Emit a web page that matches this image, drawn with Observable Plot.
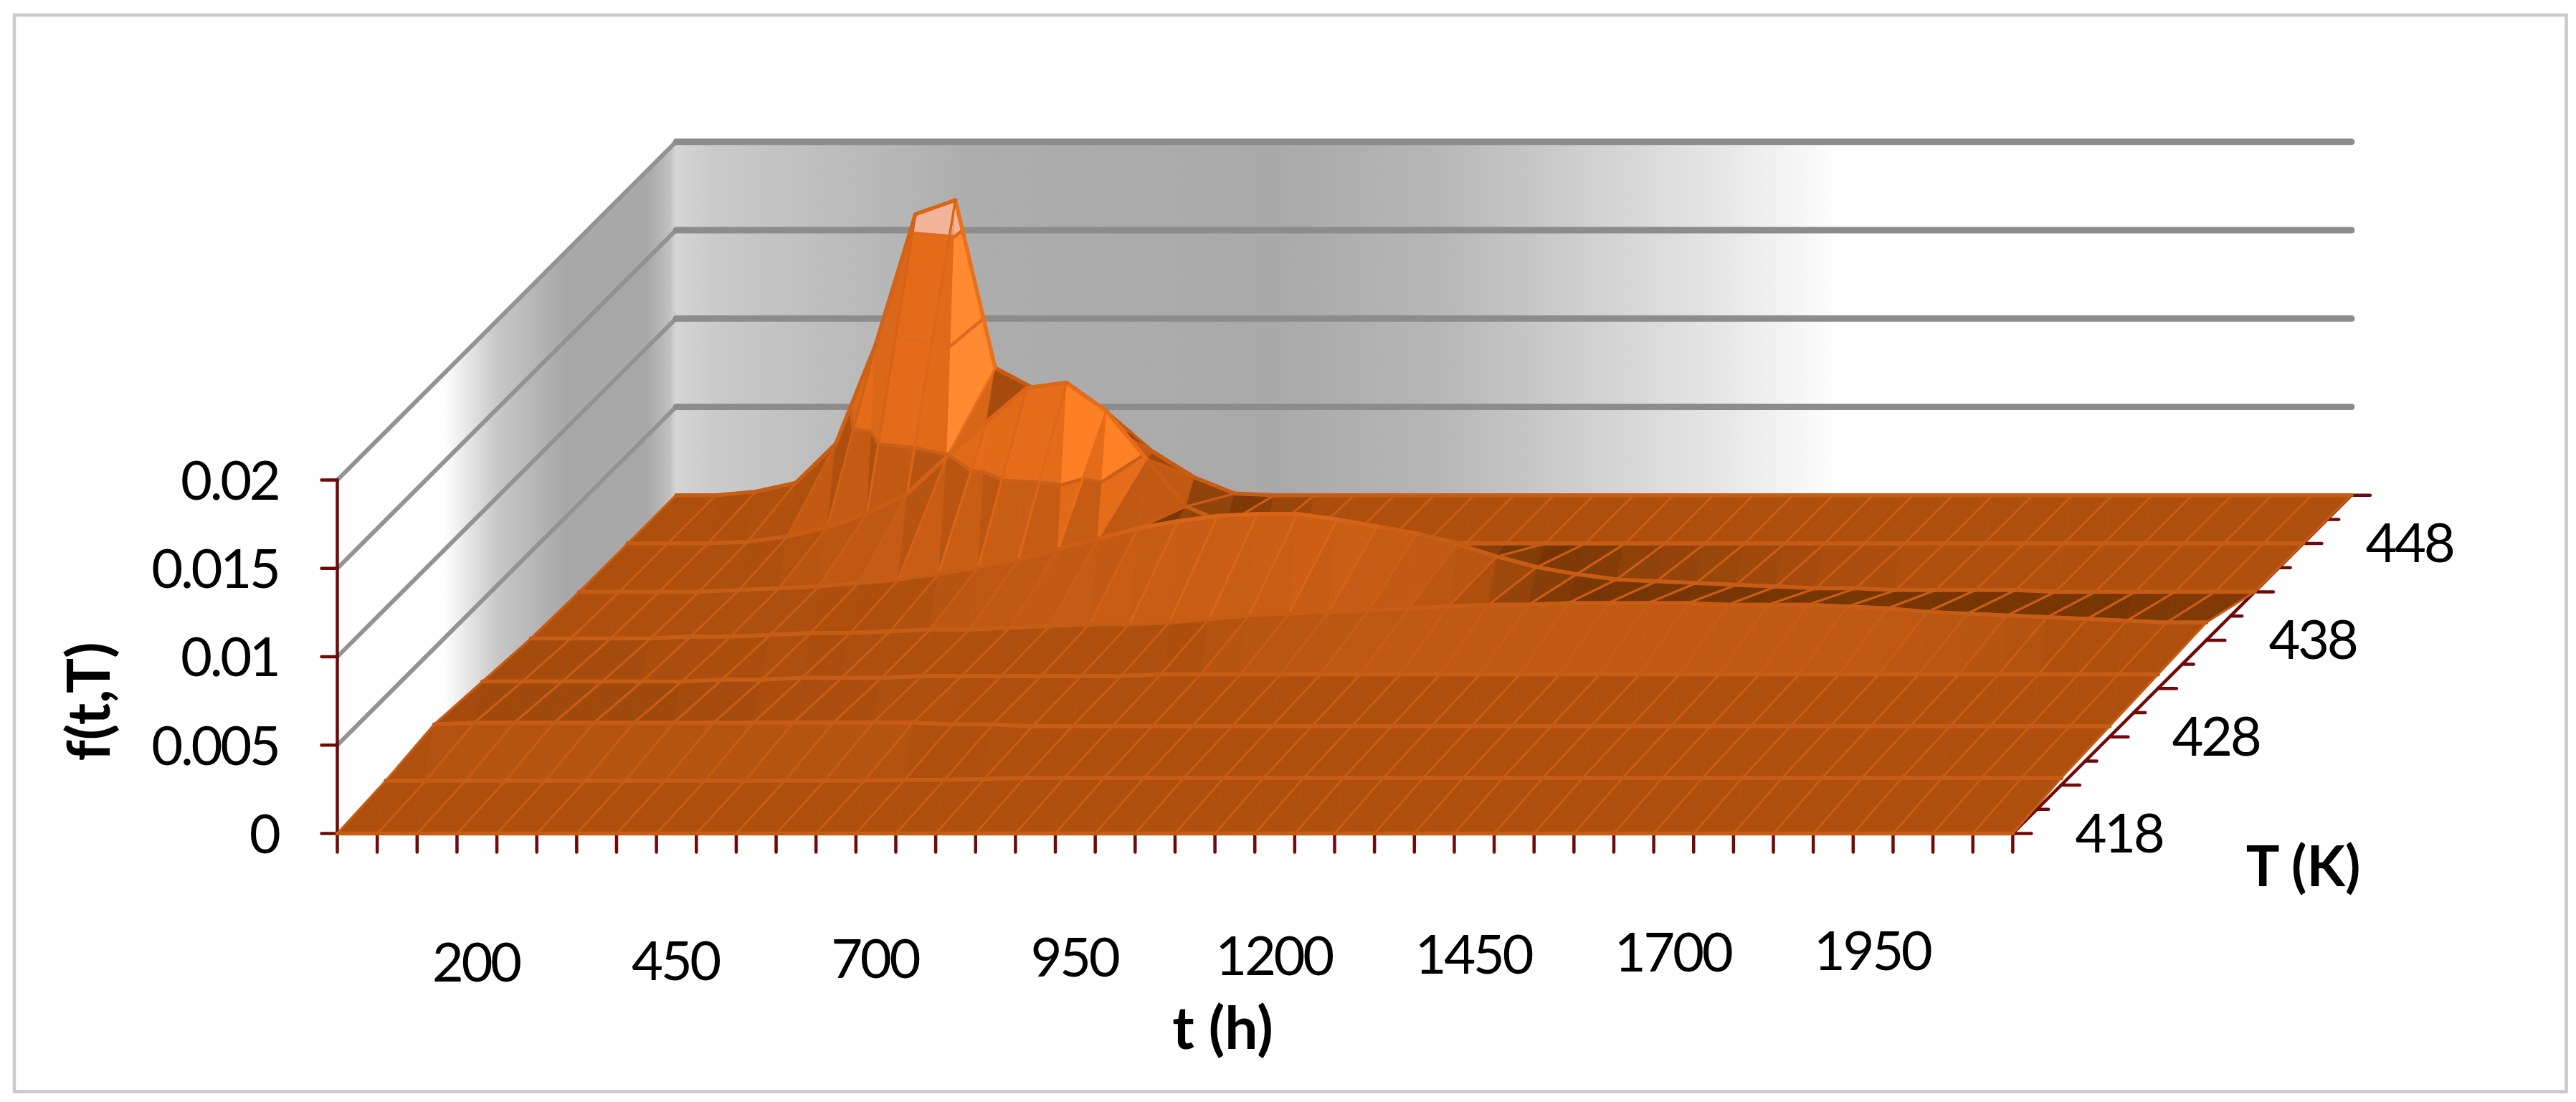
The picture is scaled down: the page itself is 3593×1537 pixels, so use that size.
<!doctype html>
<html><head><meta charset="utf-8">
<script src="https://cdn.jsdelivr.net/npm/d3@7"></script>
<script src="https://cdn.jsdelivr.net/npm/@observablehq/plot@0.6"></script>
<style>html,body{margin:0;padding:0;background:#fff;overflow:hidden}svg{display:block}g[font-size="76"]{letter-spacing:-.045em}</style>
</head><body><div id="chart"></div>
<script>
// ---- values ----
const tHours = [100,150,200,250,300,350,400,450,500,550,600,650,700,750,800,850,900,950,1000,1050,1100,1150,1200,1250,1300,1350,1400,1450,1500,1550,1600,1650,1700,1750,1800,1850,1900,1950,2000,2050,2100,2150,2200];
const tempK = [418,423,428,433,438,443,448,453];
const f418 = [0,0,0,0,0,0,0,0,0,0, 0,0,0,0,0,0,0,0,0,0, 0,0,0,0,0,0,0,0,0,0, 0,0,0,0,0,0,0,0,0,0, 0,0,0];
const f423 = [.00025,.00025,.00025,.00025,.00025,.00025,.00025,.00025,.00025,.00025, .00025,.00025,.00025,.0003,.0003,.00035,.0004,.0004,.0004,.0004, .0004,.0004,.0004,.0004,.0004,.0004,.0004,.0004,.0004,.0004, .0004,.0004,.0004,.0004,.0004,.0004,.0004,.0004,.0004,.0004, .0004,.0004,.0004];
const f428 = [.0007,.0008,.0008,.0008,.0008,.0008,.0008,.0008,.0008,.0008, .0008,.0008,.0008,.0007,.0007,.0006,.0006,.0006,.0006,.0006, .0006,.0006,.0006,.0006,.0006,.0006,.0006,.0006,.0006,.0006, .0006,.0006,.0006,.0006,.0006,.0006,.0006,.0006,.0006,.0006, .0006,.0006,.0006];
const f433 = [.0004,.0004,.0004,.0004,.0004,.0004,.0005,.0005,.0006,.0006, .0006,.0007,.0007,.0007,.0007,.0007,.0007,.0008,.0008,.0008, .0008,.0008,.0008,.0008,.0008,.0008,.0008,.0008,.0008,.0008, .0008,.0008,.0008,.0008,.0008,.0008,.0008,.0008,.0008,.0008, .0008,.0008,.0008];
const f438 = [.0001,.0001,.0001,.0001,.0002,.0002,.0003,.0004,.0004,.0005, .0006,.0006,.0007,.0008,.0009,.0009,.001,.0012,.0014,.0015, .0016,.0017,.0018,.0019,.002,.002,.0021,.0021,.0021,.0021, .002,.002,.002,.0019,.0018,.0016,.0015,.0014,.0013,.0012, .0011,.001,.001];
const f443 = [0,0,0,0,.0001,.0002,.0003,.0005,.0007,.001, .0014,.0018,.0024,.003,.0036,.004,.0043,.0044,.0044,.0041, .0037,.0033,.0027,.002,.0014,.001,.0007,.0006,.0005,.0004, .0003,.0002,.0002,.0001,.0001,.0001,.0001,0,0,0, 0,0,0];
const f448 = [0,0,0,.0001,.0004,.0009,.0017,.0028,.0049,.0069, .0088,.0091,.0075,.0048,.0021,.0011,.0005,.0002,0,0, 0,0,0,0,0,0,0,0,0,0, 0,0,0,0,0,0,0,0,0,0, 0,0,0];
const f453 = [0,0,.0002,.0007,.0029,.0085,.0159,.0167,.0072,.006, .0046,.0036,.0024,.001,.0001,0,0,0,0,0, 0,0,0,0,0,0,0,0,0,0, 0,0,0,0,0,0,0,0,0,0, 0,0,0];
const fTicks = [0,0.005,0.01,0.015,0.02];
const tLabels = [200,450,700,950,1200,1450,1700,1950];
const TLabels = [418,428,438,448];
const bandLevels = [0.005,0.01,0.015];

const surface = [f418,f423,f428,f433,f438,f443,f448,f453];

// ---- oblique projection of (t index, T index, f) ----
const W = 3593, H = 1537;
const fontFamily = "Lato, 'Open Sans', sans-serif";
const cols = tHours.length - 1, rows = tempK.length - 1;
const originX = 470, originY = 1162, stepT = 55.64, depthX = 67.5, depthY = 67.4, fPx = 24650;
const px = (i, j) => originX + stepT * i + depthX * j;
const py = (j, f) => originY - depthY * j - fPx * f;

// ---- shading of a facet ----
const ramp = d3.scaleLinear()
  .domain([-1,-.5,0,.1,.25,.4,.55,.8,1.1])
  .range(["#773503","#8f420a","#ae4f0e","#bb5612","#c75c14","#d96618","#e56c1a","#ff7f24","#ff9540"])
  .clamp(true);
function shade(dzdx, dzdy, band) {
  const rise = Math.max(0, dzdy - 0.15);
  let v1 = dzdy >= 0 ? Math.min(0.55, 0.2 * Math.log(1 + 12 * rise)) : Math.max(-1, Math.min(0, (dzdy + 0.05) * 2.5));
  let v2 = dzdx < 0 ? Math.min(0.5, -dzdx * 0.35) : -Math.min(0.12, dzdx * 0.06);
  if (v1 < 0) v1 /= 1 + (2 * dzdx) ** 2;
  if (band === 0) {
    if (v1 > 0) v1 *= 0.55;
    v2 = dzdx < 0 ? v2 * 0.8 : -Math.min(0.3, dzdx * 0.25);
  }
  return v1 + v2;
}
function clipBand(poly, lo, hi) {
  const cut = (p, keep, lvl) => {
    const out = [];
    p.forEach((a, k) => {
      const b = p[(k + 1) % p.length];
      const ka = keep(a[2]), kb = keep(b[2]);
      if (ka) out.push(a);
      if (ka !== kb) {
        const s = (lvl - a[2]) / (b[2] - a[2]);
        out.push([a[0] + s * (b[0] - a[0]), a[1] + s * (b[1] - a[1]), lvl]);
      }
    });
    return out;
  };
  let p = poly;
  if (lo > -Infinity) p = cut(p, f => f >= lo, lo);
  if (p.length && hi < Infinity) p = cut(p, f => f <= hi, hi);
  return p;
}

// ---- build the surface paths back to front, right to left ----
const paths = [];
let pid = 0;
function addPath(pts, fill, stroke, sw) {
  const id = pid++;
  pts.forEach(q => paths.push({id, x: px(q[0], q[1]), y: py(q[1], q[2]), fill, stroke, sw}));
}
const edges = [-Infinity, ...bandLevels, Infinity];
for (let j = rows - 1; j >= 0; j--) {
  for (let i = cols - 1; i >= 0; i--) {
    const A = [i, j, surface[j][i]], B = [i + 1, j, surface[j][i + 1]],
          C = [i + 1, j + 1, surface[j + 1][i + 1]], D = [i, j + 1, surface[j + 1][i]];
    const tris = [[A, B, D], [B, C, D]];
    let vSum = 0;
    tris.forEach((t, n) => {
      const dzdx = (n === 0 ? B[2] - A[2] : C[2] - D[2]) * fPx / stepT;
      const dzdy = (n === 0 ? D[2] - A[2] : C[2] - B[2]) * fPx / depthY;
      vSum += shade(dzdx, dzdy, 1);
      for (let b = 0; b < 4; b++) {
        const p = clipBand(t, edges[b], edges[b + 1]);
        if (p.length < 3) continue;
        const v = shade(dzdx, dzdy, b);
        let col = ramp(v);
        if (b === 3) col = n === 0 ? "#ec9b7b" : "#f3b59a";
        addPath(p, col, col, 0.8);
      }
      bandLevels.forEach(L => {
        const seg = [];
        t.forEach((a, k) => {
          const c = t[(k + 1) % 3];
          if ((a[2] - L) * (c[2] - L) < 0) {
            const s = (L - a[2]) / (c[2] - a[2]);
            seg.push([a[0] + s * (c[0] - a[0]), a[1] + s * (c[1] - a[1]), L]);
          }
        });
        if (seg.length === 2) addPath(seg, "none", L === 0.005 ? "#c9601a" : "#dc6a20", 4.5);
      });
    });
    const v = vSum / 2;
    const lineCol = v < 0.25 ? "#c75c15" : ramp(Math.max(0.25, v - 0.12));
    addPath([A, D], "none", lineCol, 3.2);
    addPath([B, C], "none", lineCol, 3.2);
    addPath([D, C], "none", lineCol, 5.5);
    addPath([A, B], "none", lineCol, 5.5);
  }
}

// ---- walls ----
const wallLeft = [[0,0,0],[0,0,.02],[0,rows,.02],[0,rows,0]];
const wallBack = [[0,rows,0],[0,rows,.02],[cols,rows,.02],[cols,rows,0]];
const toXY = q => ({x: px(q[0], q[1]), y: py(q[1], q[2])});
const wallLines = fTicks.slice(1).flatMap(f => [
  {k: "L" + f, ...toXY([0,0,f])}, {k: "L" + f, ...toXY([0,rows,f])}
]);
const backLines = fTicks.slice(1).flatMap(f => [
  {k: "B" + f, ...toXY([0,rows,f])}, {k: "B" + f, ...toXY([cols,rows,f])}
]);

const gradient = (id, stops) => {
  const g = d3.create("svg:linearGradient").attr("id", id).attr("gradientUnits", "userSpaceOnUse")
    .attr("x1", stops[0][0]).attr("x2", stops[stops.length - 1][0]).attr("y1", 0).attr("y2", 0);
  const a = stops[0][0], b = stops[stops.length - 1][0];
  stops.forEach(s => g.append("stop").attr("offset", (s[0] - a) / (b - a)).attr("stop-color", s[1]));
  return g.node();
};
const defsMark = () => {
  const d = d3.create("svg:defs");
  d.append(() => gradient("leftWall", [[px(0,2.2),"#ffffff"],[px(0,3.3),"#c8c8c8"],[px(0,4.7),"#a8a8a8"],[px(0,6.4),"#a8a8a8"],[px(0,6.87),"#c0c0c0"],[px(0,7),"#d5d5d5"]]));
  d.append(() => gradient("backWall", [[px(0,7),"#d5d5d5"],[px(1,7),"#cacaca"],[px(7.45,7),"#adadad"],[px(15,7),"#a9a9a9"],[px(19,7),"#b6b6b6"],[px(22.4,7),"#cdcdcd"],[px(26.2,7),"#e6e6e6"],[px(29.2,7),"#ffffff"]]));
  return d.node();
};

// ---- axes ----
const axisDark = "#6f0a0a";
const ticksY = fTicks.flatMap(f => [
  {k: f, x: px(0,0) - 22, y: py(0,f)}, {k: f, x: px(0,0), y: py(0,f)}
]);
const ticksT = d3.range(cols + 1).flatMap(i => [
  {k: i, x: px(i,0), y: py(0,0)}, {k: i, x: px(i,0), y: py(0,0) + 26}
]);
const ticksD = d3.range(rows * 2 + 1).flatMap(k => [
  {k, x: px(cols, k / 2), y: py(k / 2, 0)}, {k, x: px(cols, k / 2) + (k % 2 ? 16 : 26), y: py(k / 2, 0)}
]);
const axisLines = [
  {k: "y", ...toXY([0,0,0])}, {k: "y", ...toXY([0,0,.02])},
  {k: "t", ...toXY([0,0,0])}, {k: "t", ...toXY([cols,0,0])},
  {k: "T", ...toXY([cols,0,0])}, {k: "T", ...toXY([cols,rows,0])}
];
const fFmt = f => String(f);
const idx = t => tHours.indexOf(t);

const chart = Plot.plot({
  width: W, height: H, margin: 0,
  style: {background: "#fff", fontFamily},
  x: {domain: [0, W], range: [0, W], axis: null},
  y: {domain: [0, H], range: [0, H], axis: null},
  color: {type: "identity"},
  marks: [
    defsMark,
    Plot.frame({stroke: "#c9c9c9", strokeWidth: 4.5, insetLeft: 19.5, insetTop: 20.5, insetRight: 14, insetBottom: 15}),
    Plot.line(wallLeft.map(toXY), {x: "x", y: "y", fill: "url(#leftWall)", stroke: "none", curve: "linear-closed"}),
    Plot.line(wallBack.map(toXY), {x: "x", y: "y", fill: "url(#backWall)", stroke: "none", curve: "linear-closed"}),
    Plot.line(wallLines, {x: "x", y: "y", z: "k", stroke: "#939393", strokeWidth: 6}),
    Plot.line(backLines, {x: "x", y: "y", z: "k", stroke: "#8c8c8c", strokeWidth: 9}),
    Plot.line(axisLines, {x: "x", y: "y", z: "k", stroke: axisDark, strokeWidth: 4.5}),
    Plot.line(ticksY, {x: "x", y: "y", z: "k", stroke: axisDark, strokeWidth: 4.5}),
    Plot.line(ticksT, {x: "x", y: "y", z: "k", stroke: axisDark, strokeWidth: 4.5}),
    Plot.line(ticksD, {x: "x", y: "y", z: "k", stroke: axisDark, strokeWidth: 4.5}),
    Plot.line(paths, {x: "x", y: "y", z: "id", fill: "fill", stroke: "stroke", strokeWidth: "sw", curve: "linear-closed", strokeLinejoin: "round"}),
    Plot.text(fTicks, {x: () => px(0,0) - 82, y: f => py(0,f) + 3, text: fFmt, textAnchor: "end", lineAnchor: "middle", fontSize: 76, fill: "#000", fontFamily}),
    Plot.text(tLabels, {x: t => px(idx(t),0) + 82, y: t => 1345 - 0.45 * idx(t), text: String, textAnchor: "middle", lineAnchor: "middle", fontSize: 76, fill: "#000", fontFamily}),
    Plot.text(TLabels, {x: T => px(cols, (T - 418) / 5) + 148, y: T => py((T - 418) / 5, 0) + 2, text: String, textAnchor: "middle", lineAnchor: "middle", fontSize: 76, fill: "#000", fontFamily}),
    Plot.text(["f(t,T)"], {x: () => 126, y: () => 978, text: d => d, rotate: -90, textAnchor: "middle", lineAnchor: "middle", fontSize: 82, fontWeight: 700, fill: "#000", fontFamily}),
    Plot.text(["t (h)"], {x: () => 1705, y: () => 1436, text: d => d, textAnchor: "middle", lineAnchor: "middle", fontSize: 82, fontWeight: 700, fill: "#000", fontFamily}),
    Plot.text(["T (K)"], {x: () => 3212, y: () => 1211, text: d => d, textAnchor: "middle", lineAnchor: "middle", fontSize: 78, fontWeight: 700, fill: "#000", fontFamily})
  ]
});
document.getElementById("chart").append(chart);
</script></body></html>
